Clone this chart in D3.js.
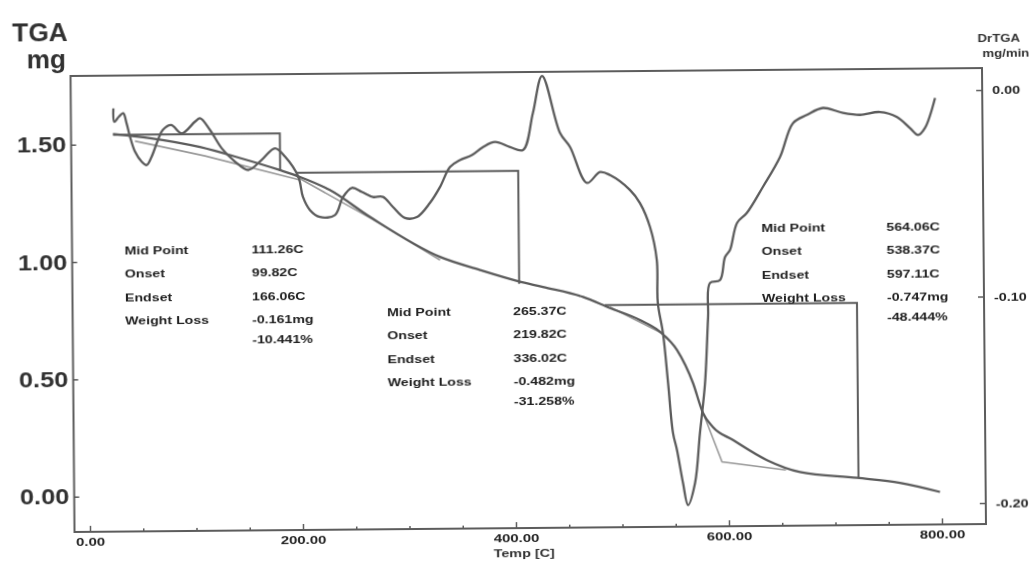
<!DOCTYPE html>
<html>
<head>
<meta charset="utf-8">
<script src="https://cdn.jsdelivr.net/npm/d3@7"></script>
<style>
body { margin: 0; background: #fff; }
svg { display: block; }
</style>
</head>
<body>
<svg width="1035" height="563"></svg>
<script>
// TGA trace: temperature (C) and sample mass (mg)
const tgaTemp = [24.8, 59.5, 106.4, 143.9, 181.3, 200.1, 228, 265.5, 330.9, 368.4, 404, 427.3,
    464.8, 490, 518.1, 536.8, 552.7, 567.4, 576.5, 585.8, 604.5, 636.2, 667.1, 720.6, 760.9, 798.4];
const tgaMass = [1.544, 1.525, 1.485, 1.437, 1.384, 1.354, 1.297, 1.181, 1.008, 0.951, 0.902, 0.876,
    0.832, 0.784, 0.732, 0.681, 0.602, 0.461, 0.333, 0.273, 0.217, 0.130, 0.078, 0.051, 0.028, -0.012];

// DrTGA trace: temperature (C) and rate (mg/min)
const dtgTemp = [25.4, 26.2, 30.6, 34.6, 37.7, 40.8, 45.4, 51.5, 56.2, 60.9,
    67.0, 71.6, 79.5, 89.4, 101.9, 106.7, 116.0, 126.8, 139.2, 151.5,
    164.2, 176.8, 186.2, 198.5, 202.7, 209.2, 218.5, 232.6, 240.3, 248.8,
    258.1, 268.4, 277.8, 287.1, 298.3, 309.6, 321.9, 331.5, 341.0, 350.4,
    361.8, 372.1, 383.5, 397.5, 409.7, 419.3, 428.2, 444.6, 453.8, 469.5,
    481.8, 491.2, 509.8, 519.1, 528.3, 534.4, 535.0, 539.6, 544.0, 548.2,
    551.8, 557.2, 561.7, 568.5, 573.5, 578.7, 582.1, 584.1, 593.6, 598.5,
    603.2, 610.1, 619.4, 634.6, 650.9, 663.4, 676.6, 691.7, 710.4, 726.4,
    745.2, 761.1, 773.2, 780.7, 787.3, 797.0];
const dtgRate = [-0.0052, -0.0117, -0.0092, -0.0076, -0.0125, -0.0190, -0.0263, -0.0311, -0.0328, -0.0288,
    -0.0207, -0.0159, -0.0135, -0.0176, -0.0120, -0.0104, -0.0161, -0.0250, -0.0315, -0.0356,
    -0.0308, -0.0252, -0.0293, -0.0391, -0.0489, -0.0553, -0.0587, -0.0578, -0.0491, -0.0447,
    -0.0467, -0.0492, -0.0492, -0.0541, -0.0595, -0.0591, -0.0523, -0.0446, -0.0350, -0.0317,
    -0.0293, -0.0255, -0.0231, -0.0256, -0.0271, -0.0092, 0.0087, -0.0190, -0.0258, -0.0433,
    -0.0381, -0.0396, -0.0469, -0.0533, -0.0649, -0.0809, -0.1017, -0.1163, -0.1405, -0.1647,
    -0.1730, -0.1890, -0.1997, -0.1891, -0.1649, -0.1407, -0.1088, -0.0923, -0.0909, -0.0798,
    -0.0764, -0.0633, -0.0585, -0.0460, -0.0316, -0.0152, -0.0113, -0.0080, -0.0105, -0.0115,
    -0.0102, -0.0127, -0.0181, -0.0215, -0.0181, -0.0036];

// weight loss steps (start temp, end temp, mass level, loss)
const stepStart = [25, 197, 485];
const stepEnd = [181.5, 405, 722];
const stepLevel = [1.54, 1.372, 0.797];
const stepLoss = [0.161, 0.482, 0.747];

// tangent construction lines drawn by the instrument, [temp, mass]
const tangentLines = [
    [[45.4, 1.513], [111.1, 1.447], [200, 1.341]],
    [[197.3, 1.354], [267.3, 1.172], [330.9, 0.995]],
    [[490.1, 0.788], [540.2, 0.671]],
    [[575.6, 0.346], [594, 0.124], [654, 0.087]]
];

// annotation tables
const noteLabels = ["Mid Point", "Onset", "Endset", "Weight Loss", ""];
const noteValues = [
    ["111.26C", "99.82C", "166.06C", "-0.161mg", "-10.441%"],
    ["265.37C", "219.82C", "336.02C", "-0.482mg", "-31.258%"],
    ["564.06C", "538.37C", "597.11C", "-0.747mg", "-48.444%"]
];

const tempTicks = d3.range(0, 801, 50);
const massTicks = [0, 0.5, 1.0, 1.5];
const rateTicks = [0, -0.1, -0.2];

// ---- layout ----
const frame = {left: 72.5, right: 984, top: 72, bottom: 528};
const notePos = [{x: 125, y: 247, vx: 252}, {x: 387, y: 311, vx: 513}, {x: 762, y: 230, vx: 887}];
const rowOffset = [0, 23, 46.5, 70, 89.5];
const ink = "#5c5c5c";
const textInk = "#222";
const fontFam = "Liberation Sans, Arial, sans-serif";

const svg = d3.select("svg");
const defs = svg.append("defs");
defs.append("filter").attr("id", "scan")
    .append("feGaussianBlur").attr("stdDeviation", 0.55);

// the scan is slightly tilted, so the whole chart is too
const root = svg.append("g")
    .attr("transform", "rotate(-0.5, 530, 300)")
    .attr("filter", "url(#scan)");

const x = d3.scaleLinear().domain([0, 800]).range([88, 940]);
const yMass = d3.scaleLinear().domain([0, 1.5]).range([492.7, 140.7]);
const yRate = d3.scaleLinear().domain([-0.2, 0]).range([507, 94]);

function stretch(sel, sx) {
    // widen text horizontally around its anchor, like the scanned print
    sel.each(function() {
        const t = d3.select(this);
        const tx = +t.attr("x") || 0;
        const ty = +t.attr("y") || 0;
        t.attr("x", 0).attr("y", 0)
            .attr("transform", `translate(${tx},${ty}) scale(${sx},1)`);
    });
}

// frame
root.append("rect")
    .attr("x", frame.left).attr("y", frame.top)
    .attr("width", frame.right - frame.left)
    .attr("height", frame.bottom - frame.top)
    .attr("fill", "none").attr("stroke", ink).attr("stroke-width", 2);

// bottom axis
const xAxis = root.append("g")
    .attr("transform", `translate(0,${frame.bottom})`)
    .call(d3.axisBottom(x).tickValues(tempTicks).tickSize(-3).tickPadding(6)
        .tickFormat(d => d % 200 === 0 ? d.toFixed(2) : ""));
xAxis.select(".domain").remove();
xAxis.selectAll(".tick line")
    .attr("y2", d => d % 200 === 0 ? -6 : -3)
    .attr("stroke", ink).attr("stroke-width", 1.5);
xAxis.selectAll(".tick text")
    .attr("font-family", fontFam)
    .attr("font-weight", "bold").attr("font-size", 11.5)
    .attr("fill", textInk)
    .call(stretch, 1.3);

// left axis (mass)
const yAxisL = root.append("g")
    .attr("transform", `translate(${frame.left},0)`)
    .call(d3.axisLeft(yMass).tickValues(massTicks).tickSize(-5).tickPadding(5)
        .tickFormat(d => d.toFixed(2)));
yAxisL.select(".domain").remove();
yAxisL.selectAll(".tick line").attr("stroke", ink).attr("stroke-width", 1.5);
yAxisL.selectAll(".tick text")
    .attr("font-family", fontFam)
    .attr("font-weight", "bold")
    .attr("font-size", 22).attr("fill", "#333")
    .call(stretch, 1.15);

// right axis (rate)
const yAxisR = root.append("g")
    .attr("transform", `translate(${frame.right},0)`)
    .call(d3.axisRight(yRate).tickValues(rateTicks).tickSize(-6).tickPadding(10)
        .tickFormat(d => d.toFixed(2)));
yAxisR.select(".domain").remove();
yAxisR.selectAll(".tick line").attr("stroke", ink).attr("stroke-width", 1.5);
yAxisR.selectAll(".tick text")
    .attr("font-family", fontFam)
    .attr("font-weight", "bold").attr("font-size", 11.5)
    .attr("fill", textInk)
    .call(stretch, 1.25);

// axis titles
const titles = root.append("g").attr("fill", "#333").attr("font-family", fontFam);
titles.append("text").attr("x", 70).attr("y", 37)
    .attr("text-anchor", "end").attr("font-size", 25).attr("font-weight", "bold")
    .text("TGA").call(stretch, 1.05);
titles.append("text").attr("x", 68).attr("y", 64)
    .attr("text-anchor", "end").attr("font-size", 25).attr("font-weight", "bold")
    .text("mg").call(stretch, 1.05);
titles.append("text").attr("x", 1001).attr("y", 46)
    .attr("text-anchor", "middle").attr("font-size", 11).attr("font-weight", "bold")
    .text("DrTGA").call(stretch, 1.2);
titles.append("text").attr("x", 1008).attr("y", 61)
    .attr("text-anchor", "middle").attr("font-size", 11).attr("font-weight", "bold")
    .text("mg/min").call(stretch, 1.2);
titles.append("text").attr("x", 522).attr("y", 557)
    .attr("text-anchor", "middle").attr("font-size", 11.5).attr("font-weight", "bold")
    .text("Temp [C]").call(stretch, 1.25);

// tangent construction lines (lighter)
const tanLine = d3.line().x(d => x(d[0])).y(d => yMass(d[1]));
root.append("g").selectAll("path")
    .data(tangentLines)
    .join("path")
    .attr("d", tanLine)
    .attr("fill", "none").attr("stroke", "#9a9a9a").attr("stroke-width", 1.6);

// weight loss step markers
const steps = d3.range(stepStart.length).map(i => [
    [stepStart[i], stepLevel[i]],
    [stepEnd[i], stepLevel[i]],
    [stepEnd[i], stepLevel[i] - stepLoss[i]]
]);
root.append("g").selectAll("path")
    .data(steps)
    .join("path")
    .attr("d", tanLine)
    .attr("fill", "none").attr("stroke", ink).attr("stroke-width", 2);

// TGA curve
const tgaPts = tgaTemp.map((t, i) => [t, tgaMass[i]]);
root.append("path")
    .datum(tgaPts)
    .attr("d", d3.line().x(d => x(d[0])).y(d => yMass(d[1])).curve(d3.curveMonotoneX))
    .attr("fill", "none").attr("stroke", ink).attr("stroke-width", 2.3);

// DrTGA curve
const dtgPts = dtgTemp.map((t, i) => [t, dtgRate[i]]);
root.append("path")
    .datum(dtgPts)
    .attr("d", d3.line().x(d => x(d[0])).y(d => yRate(d[1])).curve(d3.curveCatmullRom))
    .attr("fill", "none").attr("stroke", ink).attr("stroke-width", 2.3);

// annotation tables
const notes = root.append("g")
    .attr("font-family", fontFam)
    .attr("font-weight", "bold").attr("font-size", 10.5)
    .attr("fill", textInk);
noteValues.forEach((vals, k) => {
    const p = notePos[k];
    noteLabels.forEach((lab, r) => {
        if (lab) {
            notes.append("text").attr("x", p.x).attr("y", p.y + rowOffset[r] + 4)
                .text(lab).call(stretch, 1.35);
        }
        notes.append("text").attr("x", p.vx).attr("y", p.y + rowOffset[r] + 4)
            .text(vals[r]).call(stretch, 1.35);
    });
});
</script>
</body>
</html>
